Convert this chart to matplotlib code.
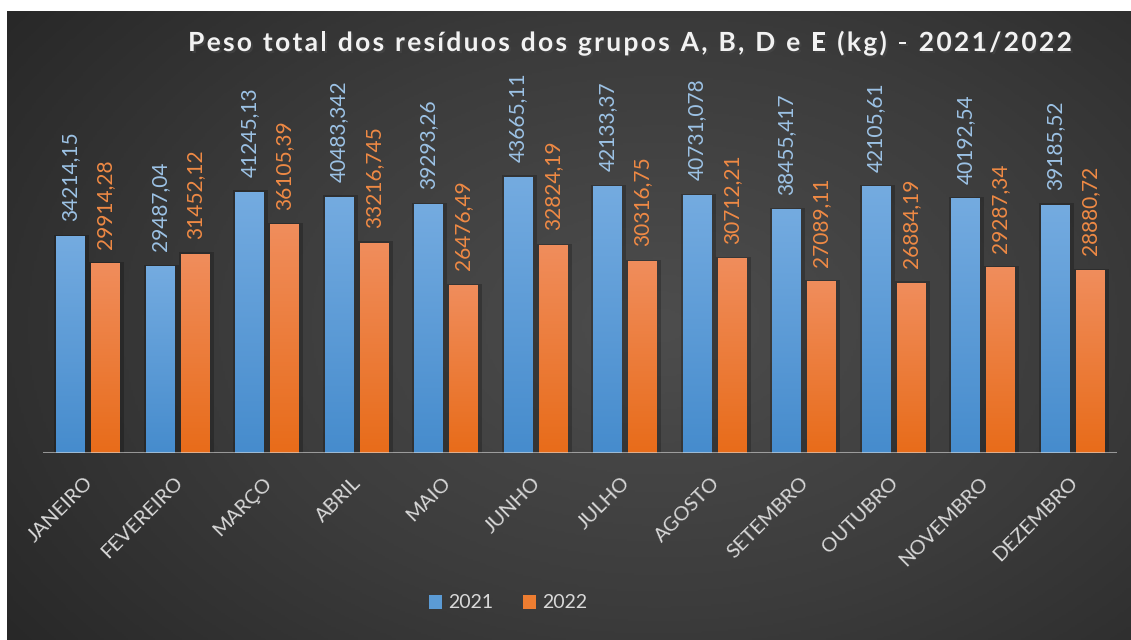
import matplotlib
matplotlib.use("Agg")
import matplotlib.pyplot as plt
import matplotlib.patheffects as pe
from matplotlib.colors import LinearSegmentedColormap
from matplotlib.patches import Rectangle
import numpy as np

plt.rcParams['font.family'] = ['Lato', 'DejaVu Sans']

meses = ['JANEIRO', 'FEVEREIRO', 'MARÇO', 'ABRIL', 'MAIO', 'JUNHO',
         'JULHO', 'AGOSTO', 'SETEMBRO', 'OUTUBRO', 'NOVEMBRO', 'DEZEMBRO']
peso_2021 = [34214.15, 29487.04, 41245.13, 40483.342, 39293.26, 43665.11,
             42133.37, 40731.078, 38455.417, 42105.61, 40192.54, 39185.52]
peso_2022 = [29914.28, 31452.12, 36105.39, 33216.745, 26476.49, 32824.19,
             30316.75, 30712.21, 27089.11, 26884.19, 29287.34, 28880.72]
rotulos_2021 = ['34214,15', '29487,04', '41245,13', '40483,342', '39293,26', '43665,11',
                '42133,37', '40731,078', '38455,417', '42105,61', '40192,54', '39185,52']
rotulos_2022 = ['29914,28', '31452,12', '36105,39', '33216,745', '26476,49', '32824,19',
                '30316,75', '30712,21', '27089,11', '26884,19', '29287,34', '28880,72']
anos = ['2021', '2022']
titulo = 'Peso total dos resíduos dos grupos A, B, D e E (kg) - 2021/2022'

W, H = 1131, 640
fig = plt.figure(figsize=(W / 100, H / 100), dpi=100, facecolor='white')

# fundo escuro com gradiente radial
bg = fig.add_axes([7 / W, 0, 1 - 7 / W, 1 - 11 / H])
yy, xx = np.mgrid[0:1:300j, 0:1:500j]
r = np.sqrt(((xx - 0.58) / 0.75) ** 2 + ((yy - 0.5) / 0.9) ** 2)
r = np.clip(r, 0, 1)
bg_cmap = LinearSegmentedColormap.from_list('bg', ['#4d4d4d', '#3c3c3c', '#262626'])
bg.imshow(r, cmap=bg_cmap, aspect='auto', extent=[0, 1, 0, 1], vmin=0, vmax=1)
bg.set_axis_off()

ax = fig.add_axes([43 / W, 1 - 453 / H, 1074 / W, 316 / H])
ax.patch.set_alpha(0)

cmap_azul = LinearSegmentedColormap.from_list('azul', ['#468ccd', '#74abe0'])
cmap_laranja = LinearSegmentedColormap.from_list('laranja', ['#e86c1a', '#f08d5c'])

largura = 0.32
grad = np.linspace(0, 1, 100).reshape(-1, 1)
x = np.arange(len(meses)) + 0.5
for serie, cmap, desloc, rotulos, cor_txt in [
        (peso_2021, cmap_azul, -0.193, rotulos_2021, '#9dc3e6'),
        (peso_2022, cmap_laranja, 0.198, rotulos_2022, '#f08a45')]:
    for xi, v, txt in zip(x, serie, rotulos):
        x0 = xi + desloc - largura / 2
        # sombra
        ax.add_patch(Rectangle((x0 - 0.02, 0), largura + 0.07, v + 300,
                               facecolor='black', alpha=0.22, edgecolor='none', zorder=1))
        ax.imshow(grad, cmap=cmap, origin='lower', aspect='auto',
                  extent=[x0, x0 + largura, 0, v], zorder=2)
        ax.annotate(txt, (xi + desloc, v), xytext=(0, 11), textcoords='offset points',
                    rotation=90, ha='center', va='bottom', fontsize=15, color=cor_txt)

ax.set_xlim(0, len(meses))
ax.set_ylim(0, 50000)
ax.axhline(0, color='#d9d9d9', alpha=0.6, linewidth=2.2, zorder=3)
for s in ax.spines.values():
    s.set_visible(False)
ax.set_yticks([])
ax.set_xticks(x - 0.04)
ax.set_xticklabels(meses, rotation=45, ha='right', va='top', rotation_mode='anchor',
                   fontsize=14.5, color='#d9d9d9')
ax.tick_params(axis='x', length=0, pad=15)

# titulo com espaçamento entre letras
renderer = fig.canvas.get_renderer()
estilo = dict(fontsize=19, fontweight='bold', color='#f2f2f2', va='center', ha='left',
              path_effects=[pe.withSimplePatchShadow(offset=(1.5, -1.5), alpha=0.6)])


def largura_px(s):
    t = fig.text(0, 0, s, **estilo)
    w = t.get_window_extent(renderer).width
    t.remove()
    return w


base = largura_px('II')
avancos = [largura_px('I' + c + 'I') - base for c in titulo]
espaco = 2.3
total = sum(avancos) + espaco * (len(titulo) - 1)
pos = 630 - total / 2
for c, a in zip(titulo, avancos):
    if c != ' ':
        fig.text(pos / W, 1 - 43 / H, c, **estilo)
    pos += a + espaco

handles = [Rectangle((0, 0), 1, 1, facecolor='#5b9bd5'),
           Rectangle((0, 0), 1, 1, facecolor='#ed7d31')]
fig.legend(handles, anos, loc='center', bbox_to_anchor=(508 / W, 1 - 603 / H), ncol=2,
           frameon=False, fontsize=14, labelcolor='#d9d9d9', handlelength=0.7,
           handleheight=0.7, handletextpad=0.3, columnspacing=1.5)

fig.savefig('out.png', dpi=100, facecolor=fig.get_facecolor())
